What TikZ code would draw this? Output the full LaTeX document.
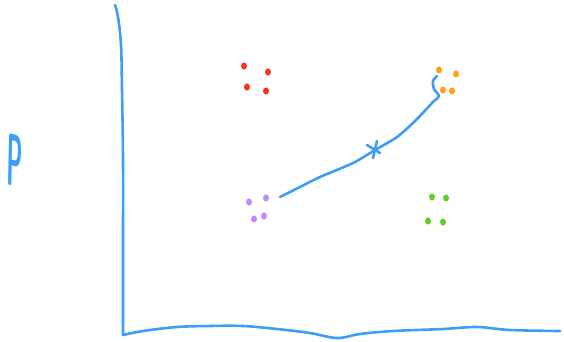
\documentclass[tikz,border=0pt]{standalone}
\usepackage{fontspec}
\usepackage{tikz}
\usetikzlibrary{calc,positioning}
\definecolor{PenBlue}{RGB}{62,158,245}
\definecolor{DotRed}{RGB}{240,50,30}
\definecolor{DotOrange}{RGB}{255,160,25}
\definecolor{DotPurple}{RGB}{190,140,250}
\definecolor{DotGreen}{RGB}{95,205,40}

\begin{document}
\begin{tikzpicture}[x=1pt,y=-1pt,line cap=round,line join=round,
    pen/.style={PenBlue,line width=2.6pt},
    blob/.style={x radius=3,y radius=3.6}]
      \useasboundingbox (0,0) rectangle (564,341);
      \coordinate (O) at (123,335);
      \coordinate (S) at (375,150);
      % axes
      \draw[pen] plot[smooth,tension=0.6] coordinates
        {(115,5) (118,17) (121,45) (122,90) (123,160) (123,250) (123,335)};
      \draw[pen] plot[smooth,tension=0.6] coordinates
        {(O) (143,331) (177,327) (210,326) (243,326) (277,329) (310,333)
         (337,338) (360,334) (393,331) (443,329) (477,327) (510,330) (560,331)};
      \node[text=PenBlue,font=\fontsize{74}{74}\sffamily\bfseries,xscale=0.3,rotate=-4] (P) at (15,161) {P};
      % clusters
      \foreach \x/\y in {244/66,268/72,247/87,266/91}
        \fill[DotRed] (\x,\y) ellipse[blob];
      \foreach \x/\y in {439/70,456/74,443/90,452/91}
        \fill[DotOrange] (\x,\y) ellipse[blob];
      \foreach \x/\y in {249/202,266/198,254/219,264/216}
        \fill[DotPurple] (\x,\y) ellipse[blob];
      \foreach \x/\y in {432/197,446/198,428/221,443/222}
        \fill[DotGreen] (\x,\y) ellipse[blob];
      % path of the centre
      \draw[pen] plot[smooth,tension=0.5] coordinates
        {(280,197) (300,187) (320,177) (353,163) (S) (397,137) (415,121)
         (433,102) (439,96) (434,89) (433,81) (437,76)};
      \draw[pen] ($(S)+(-8,-5)$) -- ($(S)+(5,3)$);
      \draw[pen] ($(S)+(2,-9)$) -- ($(S)+(-2,8)$);
    \end{tikzpicture}
\end{document}
